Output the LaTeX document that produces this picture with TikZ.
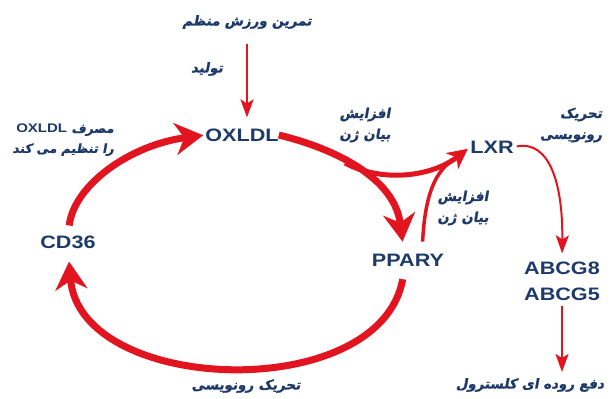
\documentclass[tikz,border=0pt]{standalone}
\usepackage{fontspec}
\usetikzlibrary{arrows.meta}
\TeXXeTstate=1
\newfontfamily\lat[FakeStretch=1.2]{Liberation Sans}
\newfontfamily\fa[Script=Arabic,FakeSlant=0.18,FakeBold=1.2]{DejaVu Sans}
\definecolor{navy}{HTML}{1E3A6B}
\definecolor{rd}{HTML}{E2141F}
\tikzset{
  lab/.style={inner sep=0pt, text=navy, font=\lat\bfseries\fontsize{18}{26}\selectfont},
  fat/.style={inner sep=0pt, text=navy, font=\fa\bfseries\fontsize{13.5}{21}\selectfont},
  thick arrow/.style={draw=rd, line width=7pt, -{Stealth[length=28pt,width=32pt,inset=9pt]}},
  mid arrow/.style={draw=rd, line width=5pt, -{Stealth[length=20pt,width=20pt,inset=6pt]}},
  thin arrow/.style={draw=rd, line width=2pt, -{Stealth[length=18pt,width=13pt,inset=4pt]}},
}
\begin{document}
\begin{tikzpicture}[x=1pt,y=-1pt]
\useasboundingbox[fill=white] (0,0) rectangle (616,399);
% main labels
\node[lab] (ox) at (242,135) {OXLDL};
\node[lab] (lxr) at (492,147) {LXR};
\node[lab] (cd) at (68,242) {CD36};
\node[lab] (pp) at (408,260) {PPARY};
\node[lab, align=center] (abc) at (562,281) {ABCG8\\ABCG5};
% persian labels
\node[fat] (ex) at (247,22) {\beginR تمرین ورزش منظم\endR};
\node[fat] (tl) at (207,69) {\beginR تولید\endR};
\node[fat, align=right, anchor=east, font=\fa\bfseries\fontsize{12.5}{20}\selectfont] (cons) at (114,140) {\beginR مصرف \beginL{\lat\bfseries\fontsize{12.5}{20}\selectfont OXLDL}\endL\endR\\\beginR را تنظیم می کند\endR};
\node[fat, align=center] (g1) at (365,125) {\beginR افزایش\endR\\\beginR بیان ژن\endR};
\node[fat, align=center] (g2) at (463,208) {\beginR افزایش\endR\\\beginR بیان ژن\endR};
\node[fat, align=right] (tr1) at (571,125) {\beginR تحریک\endR\\\beginR رونویسی\endR};
\node[fat] (tr2) at (246,386) {\beginR تحریک رونویسی\endR};
\node[fat] (ex2) at (530,385) {\beginR دفع روده ای کلسترول\endR};
% connectors
\draw[thin arrow, shorten <=15pt, shorten >=11pt] (ex.south) -- (ox.north -| ex.south);
\draw[thick arrow, shorten <=10pt, shorten >=2pt] (cd.north) .. controls (74,185) and (130,145) .. (ox.west);
\draw[thick arrow, shorten >=12pt] (ox.east) .. controls (340,150) and (395,180) .. ([xshift=-4pt]pp.north);
\coordinate (br) at (345,163);
\draw[draw=rd, line width=3.5pt, shorten <=12pt] ([xshift=14pt]pp.north) .. controls (425,195) and (435,170) .. (456,158);
\draw[mid arrow, shorten >=3pt] (br) .. controls (380,182) and (430,178) .. (lxr.west);
\draw[thick arrow, shorten <=13pt, shorten >=13pt] ([xshift=-3pt]pp.south) .. controls (380,405) and (80,395) .. (cd.south);
\draw[thin arrow, shorten <=3pt, shorten >=8pt] (lxr.east) .. controls (550,140) and (563,185) .. (abc.north);
\draw[thin arrow, shorten <=5pt, shorten >=6pt] (abc.south) -- (abc.south |- ex2.north);
\end{tikzpicture}
\end{document}
